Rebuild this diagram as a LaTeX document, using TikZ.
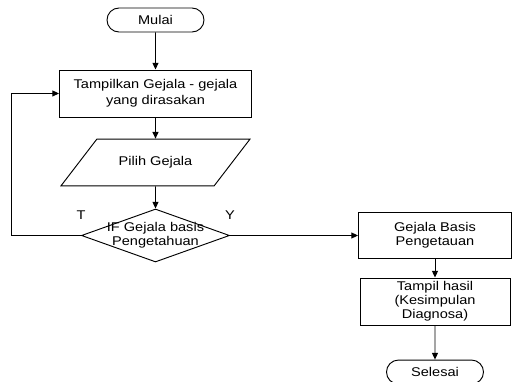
\documentclass[tikz,border=0pt]{standalone}
\usepackage{fontspec}
\setmainfont{Liberation Sans}[FakeStretch=1.15]
\usetikzlibrary{shapes,arrows,arrows.meta,positioning,calc}

\begin{document}
\begin{tikzpicture}[>={Triangle[length=5pt,width=4.5pt]}, on grid, line width=0.7pt,
  every node/.style={font=\fontsize{9.5}{10.5}\selectfont, align=center},
  terminal/.style={draw, rounded rectangle, minimum width=72.75pt, minimum height=18pt, inner sep=0pt},
  proses/.style={draw, rectangle, minimum height=35.25pt, inner sep=2pt},
  masukan/.style={draw, trapezium, trapezium left angle=52.5, trapezium right angle=127.5,
    trapezium stretches body=true, minimum width=141.75pt, inner xsep=0pt, inner ysep=13.1pt},
  keputusan/.style={draw, diamond, minimum width=111pt, minimum height=39.75pt, inner sep=0pt}]

  \useasboundingbox (-116.6pt,15pt) rectangle (268.1pt,-270.75pt);

  % Simbol alur utama
  \node[terminal] (mulai) at (0,0) {Mulai};
  \node[proses, minimum width=144pt, font=\fontsize{9.5}{12}\selectfont] (tampil) [below=55.1pt of mulai] {Tampilkan Gejala - gejala\\yang dirasakan};
  \node[masukan] (pilih) [below=51.75pt of tampil] {Pilih Gejala};
  \node[keputusan, label={center:IF Gejala basis\\Pengetahuan}] (cek) [below=54.75pt of pilih] {};
  \node[proses, minimum width=114.75pt, minimum height=34.5pt] (basis) [right=209.6pt of cek] {Gejala Basis\\Pengetauan};
  \node[proses, minimum width=112.5pt] (hasil) [below=49.5pt of basis] {Tampil hasil\\(Kesimpulan\\Diagnosa)};
  \node[terminal] (selesai) [below=52.9pt of hasil] {Selesai};

  % Label cabang
  \node (t) [above=8.25pt of cek.west] {T};
  \node (y) [above=8.25pt of cek.east] {Y};
  \coordinate[left=52.5pt of cek.west] (balik);

  % Panah
  \path[->]
    (mulai) edge (tampil)
    (tampil) edge (pilih)
    (pilih) edge (cek)
    (cek) edge (basis)
    (basis) edge (hasil)
    (hasil) edge (selesai);
  \draw[->] (cek.west) -- (balik) |- (tampil.west);

\end{tikzpicture}
\end{document}
